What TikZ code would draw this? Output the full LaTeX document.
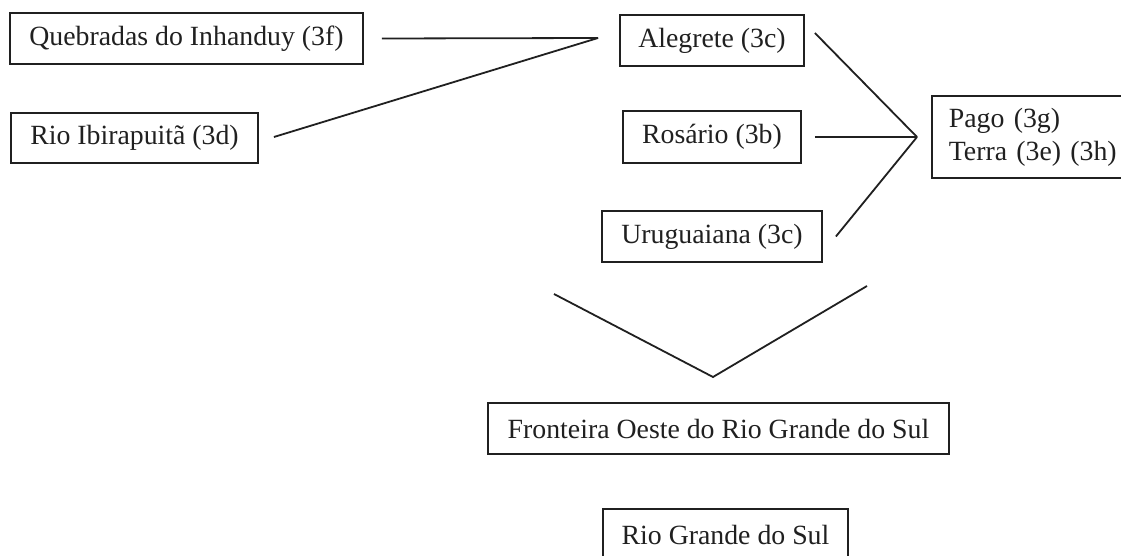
\documentclass[tikz,border=0pt]{standalone}
\usepackage{fontspec}
\setmainfont{Liberation Serif}
\definecolor{ink}{RGB}{32,32,32}
\begin{document}
\begin{tikzpicture}[x=1pt,y=-1pt,
  every node/.style={font=\fontsize{27.8}{33}\selectfont, text=ink},
  place/.style={draw=ink, line width=1.8pt, rectangle, inner sep=0pt,
    minimum width=#1, minimum height=51pt},
  link/.style={draw=ink, line width=1.8pt}]
  \useasboundingbox (0,0) rectangle (1121,556);
  \fill[white] (0,0) rectangle (1121,556);
  \clip (0,0) rectangle (1121,556);

  % left-hand places
  \node[place=353pt] (q)   at (186.5,38.5) {Quebradas do Inhanduy (3f)};
  \node[place=247pt, minimum height=50pt] (rio) at (134.5,138) {Rio Ibirapuitã (3d)};

  % municipalities
  \node[place=184pt] (ale) at (712,40.5) {Alegrete (3c)};
  \node[place=178pt, minimum height=52pt] (ros) at (712,137) {Rosário (3b)};
  \node[place=220pt] (uru) at (712,236.5) {Uruguaiana (3c)};

  % concepts box, running off the right edge
  \node[draw=ink, line width=1.8pt, anchor=west, inner xsep=17pt, inner ysep=0pt,
    minimum height=82pt, text width=170pt, align=left] (pago) at (931,137)
    {Pago (3g)\\Terra (3e) (3h)};

  % regions
  \node[place=461pt] (fro) at (718.5,428.5) {Fronteira Oeste do Rio Grande do Sul};
  \node[place=245pt] (rgs) at (725.5,534.5) {Rio Grande do Sul};

  % meeting points of the connectors
  \coordinate (j1) at (598,38);
  \coordinate (j2) at (917,137);
  \coordinate (vl) at (554,294);
  \coordinate (vb) at (713,377);
  \coordinate (vr) at (867,286);

  \draw[link] ([xshift=18pt]q.east) -- (j1);
  \draw[link] ([xshift=15pt,yshift=1pt]rio.east) -- (j1);
  \draw[link] ([xshift=10pt,yshift=7.5pt]ale.east) -- (j2);
  \draw[link] ([xshift=13pt]ros.east) -- (j2);
  \draw[link] ([xshift=13pt]uru.east) -- (j2);
  \draw[link] (vl) -- (vb) -- (vr);
\end{tikzpicture}
\end{document}
